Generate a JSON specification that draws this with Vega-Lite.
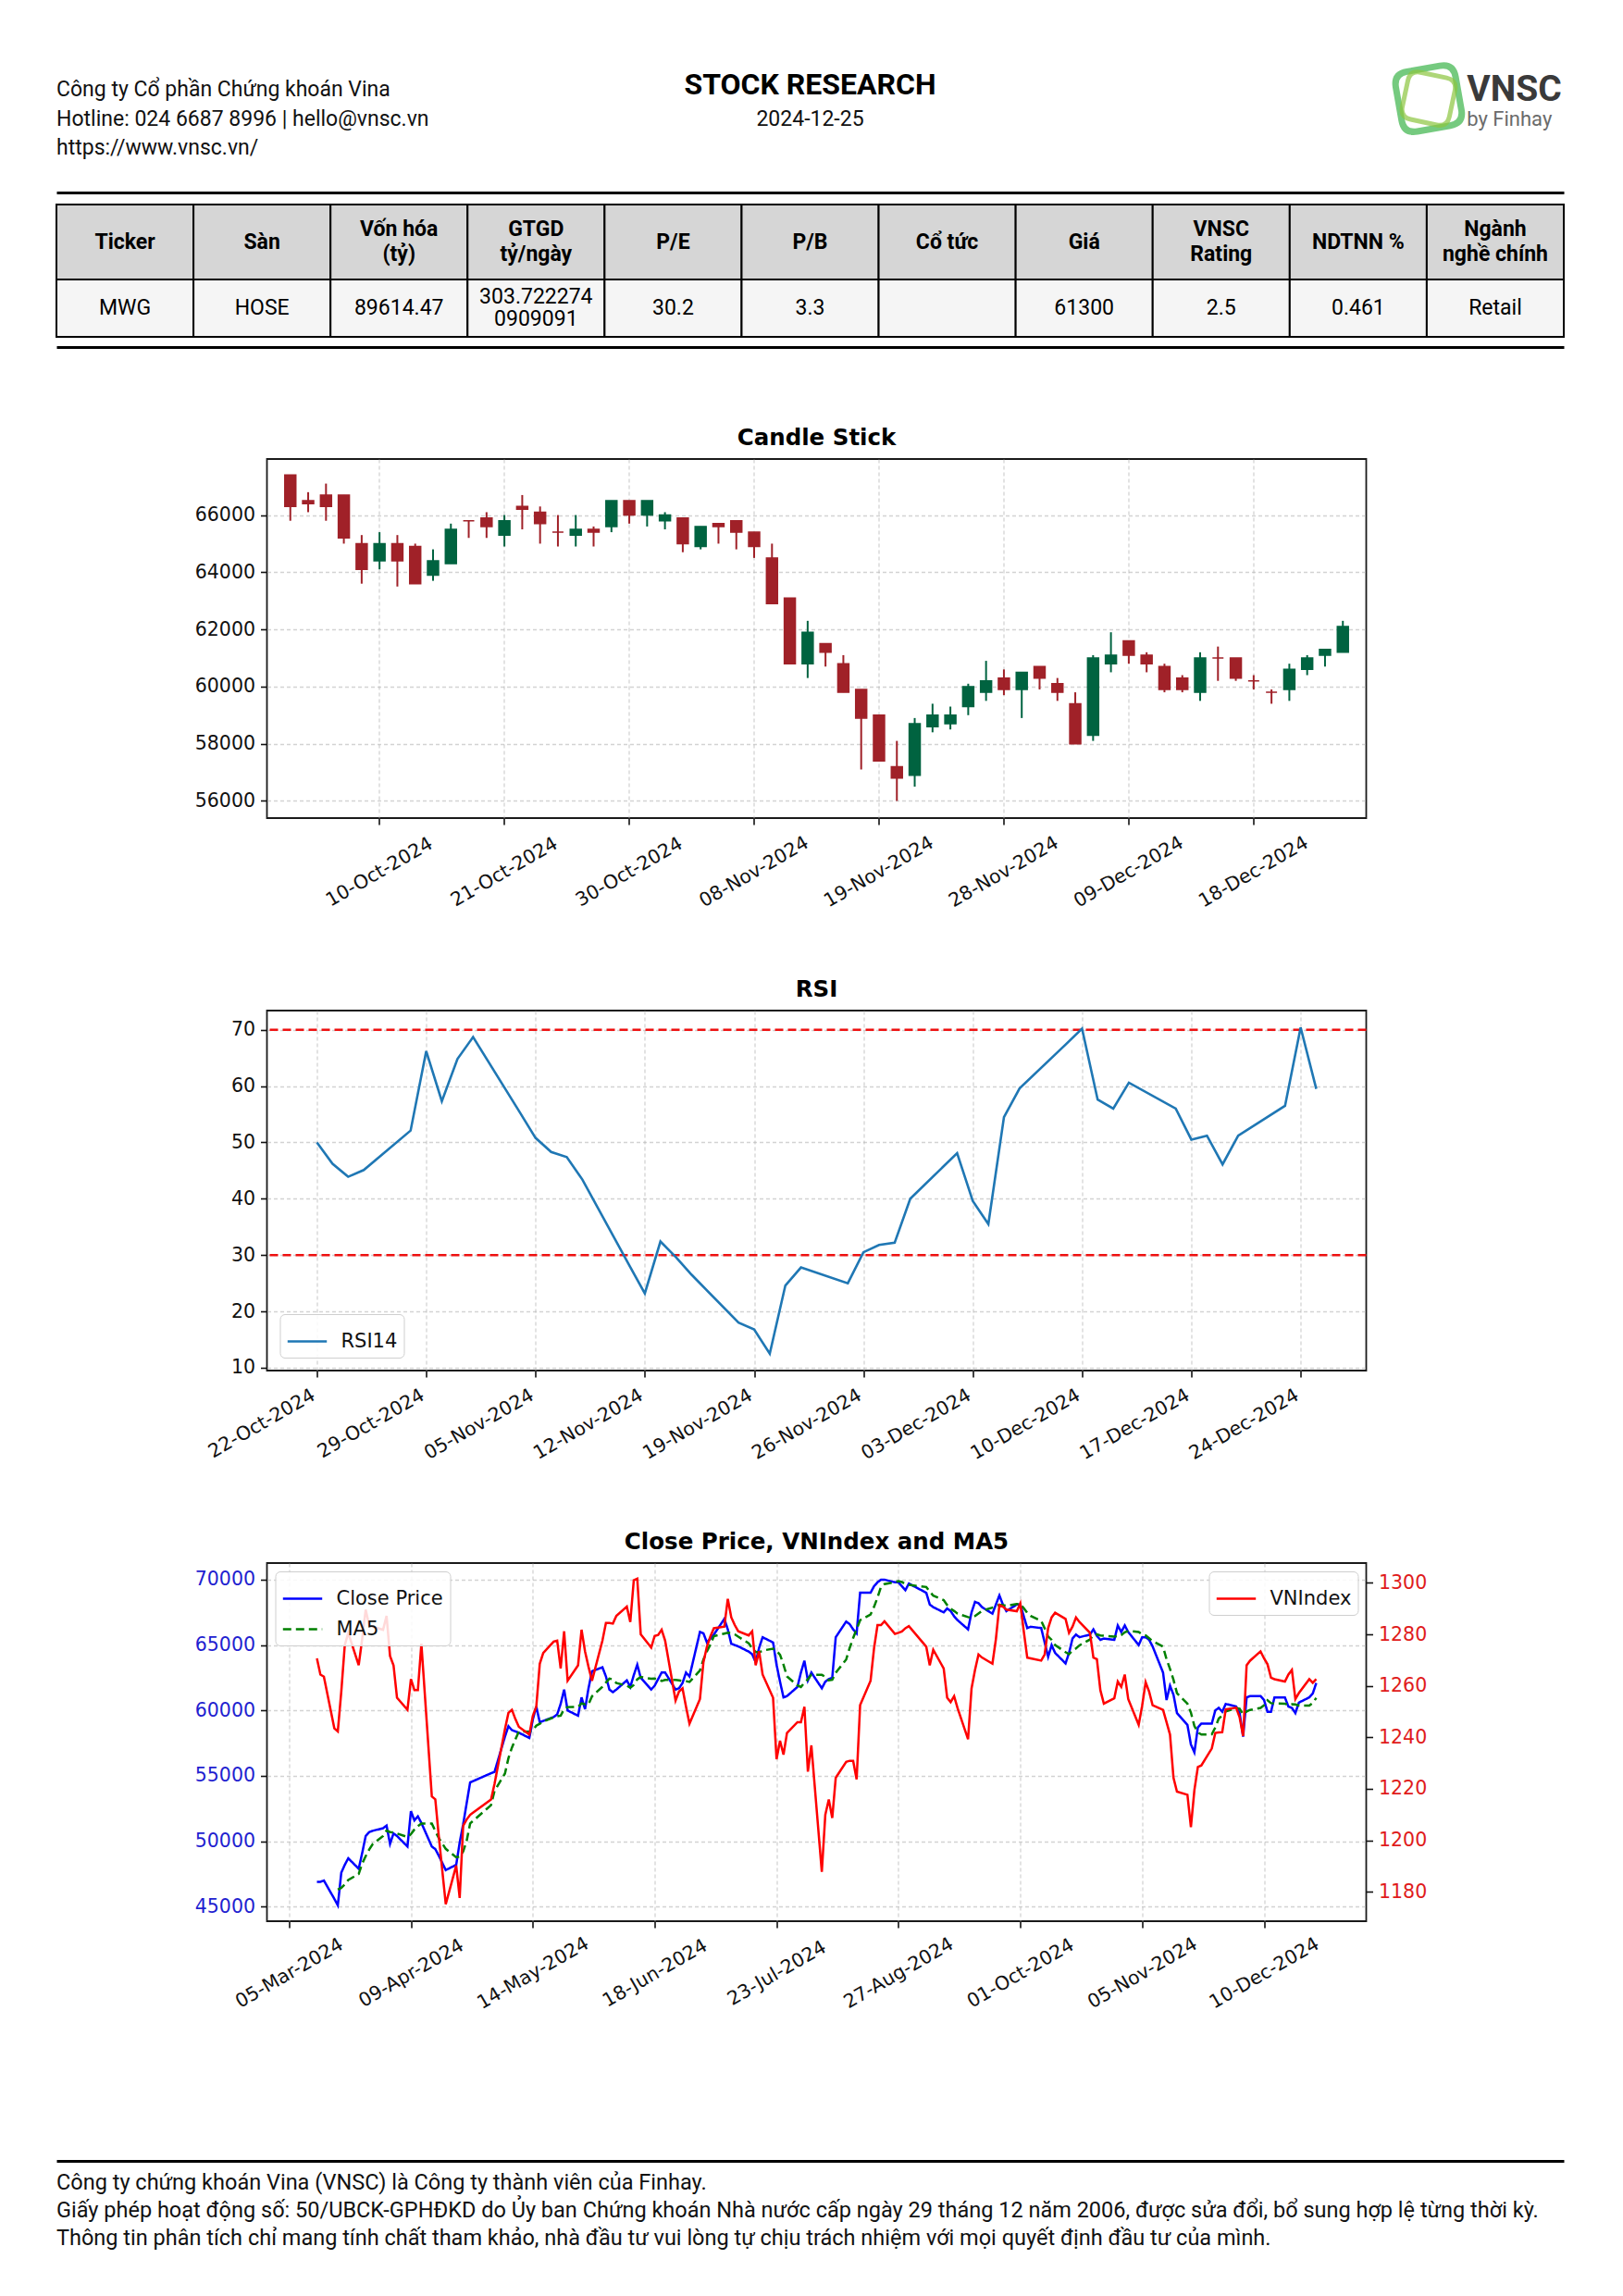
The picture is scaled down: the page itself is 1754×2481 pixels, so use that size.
{
  "$schema": "https://vega.github.io/schema/vega-lite/v6.json",
  "background": "white",
  "padding": {"left": 60, "top": 56, "right": 20, "bottom": 20},
  "bounds": "flush",
  "center": true,
  "spacing": 208,
  "resolve": {"scale": {"color": "independent", "strokeDash": "independent"}, "legend": {"color": "independent", "strokeDash": "independent"}},
  "config": {
    "view": {"stroke": "#1a1a1a", "strokeWidth": 1.8},
    "font": "DejaVu Sans",
    "title": {"font": "DejaVu Sans", "fontSize": 24.5, "fontWeight": "bold", "color": "#000000", "offset": 10},
    "axis": {"labelFont": "DejaVu Sans", "labelFontSize": 20.5, "labelColor": "#111111", "tickColor": "#111111", "tickSize": 7, "tickWidth": 1.6, "domain": false, "gridColor": "#b5b5b5", "gridDash": [4, 3], "gridOpacity": 0.6, "gridWidth": 1.3, "labelPadding": 6, "labelOverlap": false, "labelFlush": false},
    "legend": {"labelFont": "DejaVu Sans", "labelFontSize": 21, "labelColor": "#111111", "symbolType": "stroke", "symbolStrokeWidth": 2.5, "symbolSize": 1800, "strokeColor": "#cfcfcf", "fillColor": "rgba(255,255,255,0.85)", "cornerRadius": 5, "padding": 7, "labelOffset": 14, "rowPadding": -6}
  },
  "datasets": {
    "table": [
      {"head": "Ticker", "val": "MWG"},
      {"head": "Sàn", "val": "HOSE"},
      {"head": "Vốn hóa\n(tỷ)", "val": "89614.47"},
      {"head": "GTGD\ntỷ/ngày", "val": "303.722274\n0909091"},
      {"head": "P/E", "val": "30.2"},
      {"head": "P/B", "val": "3.3"},
      {"head": "Cổ tức", "val": ""},
      {"head": "Giá", "val": "61300"},
      {"head": "VNSC\nRating", "val": "2.5"},
      {"head": "NDTNN %", "val": "0.461"},
      {"head": "Ngành\nnghề chính", "val": "Retail"}
    ],
    "candles": [
      {"date":"2024-10-03","open":67400,"high":67400,"low":65800,"close":66300},
      {"date":"2024-10-04","open":66500,"high":66800,"low":66100,"close":66400},
      {"date":"2024-10-07","open":66700,"high":67100,"low":65800,"close":66300},
      {"date":"2024-10-08","open":66700,"high":66700,"low":65000,"close":65200},
      {"date":"2024-10-09","open":65000,"high":65300,"low":63600,"close":64100},
      {"date":"2024-10-10","open":64400,"high":65400,"low":64100,"close":65000},
      {"date":"2024-10-11","open":65000,"high":65300,"low":63500,"close":64400},
      {"date":"2024-10-14","open":64900,"high":65000,"low":63600,"close":63600},
      {"date":"2024-10-15","open":63900,"high":64800,"low":63700,"close":64400},
      {"date":"2024-10-16","open":64300,"high":65700,"low":64300,"close":65500},
      {"date":"2024-10-17","open":65800,"high":65800,"low":65200,"close":65800},
      {"date":"2024-10-18","open":65900,"high":66100,"low":65200,"close":65600},
      {"date":"2024-10-21","open":65300,"high":66000,"low":64900,"close":65800},
      {"date":"2024-10-22","open":66300,"high":66700,"low":65500,"close":66200},
      {"date":"2024-10-23","open":66100,"high":66300,"low":65000,"close":65700},
      {"date":"2024-10-24","open":65400,"high":66000,"low":64900,"close":65400},
      {"date":"2024-10-25","open":65300,"high":66000,"low":64900,"close":65500},
      {"date":"2024-10-28","open":65500,"high":65600,"low":64900,"close":65400},
      {"date":"2024-10-29","open":65600,"high":66500,"low":65400,"close":66500},
      {"date":"2024-10-30","open":66500,"high":66500,"low":65700,"close":66000},
      {"date":"2024-10-31","open":66000,"high":66500,"low":65600,"close":66500},
      {"date":"2024-11-01","open":65800,"high":66100,"low":65500,"close":66000},
      {"date":"2024-11-04","open":65900,"high":65900,"low":64700,"close":65000},
      {"date":"2024-11-05","open":64900,"high":65600,"low":64800,"close":65600},
      {"date":"2024-11-06","open":65700,"high":65700,"low":65000,"close":65600},
      {"date":"2024-11-07","open":65800,"high":65800,"low":64800,"close":65400},
      {"date":"2024-11-08","open":65400,"high":65400,"low":64500,"close":64900},
      {"date":"2024-11-11","open":64500,"high":65000,"low":62900,"close":62900},
      {"date":"2024-11-12","open":63100,"high":63100,"low":60800,"close":60800},
      {"date":"2024-11-13","open":60800,"high":62300,"low":60300,"close":61900},
      {"date":"2024-11-14","open":61500,"high":61500,"low":60700,"close":61200},
      {"date":"2024-11-15","open":60800,"high":61100,"low":59800,"close":59800},
      {"date":"2024-11-18","open":59900,"high":59900,"low":57100,"close":58900},
      {"date":"2024-11-19","open":59000,"high":59000,"low":57400,"close":57400},
      {"date":"2024-11-20","open":57200,"high":58100,"low":56000,"close":56800},
      {"date":"2024-11-21","open":56900,"high":58900,"low":56500,"close":58700},
      {"date":"2024-11-22","open":58600,"high":59400,"low":58400,"close":59000},
      {"date":"2024-11-25","open":58700,"high":59300,"low":58500,"close":59000},
      {"date":"2024-11-26","open":59300,"high":60100,"low":59000,"close":60000},
      {"date":"2024-11-27","open":59800,"high":60900,"low":59500,"close":60200},
      {"date":"2024-11-28","open":60300,"high":60600,"low":59700,"close":59900},
      {"date":"2024-11-29","open":59900,"high":60500,"low":58900,"close":60500},
      {"date":"2024-12-02","open":60700,"high":60700,"low":59900,"close":60300},
      {"date":"2024-12-03","open":60100,"high":60300,"low":59500,"close":59800},
      {"date":"2024-12-04","open":59400,"high":59800,"low":58000,"close":58000},
      {"date":"2024-12-05","open":58300,"high":61100,"low":58100,"close":61000},
      {"date":"2024-12-06","open":60800,"high":61900,"low":60500,"close":61100},
      {"date":"2024-12-09","open":61600,"high":61600,"low":60800,"close":61100},
      {"date":"2024-12-10","open":61100,"high":61200,"low":60500,"close":60800},
      {"date":"2024-12-11","open":60700,"high":60800,"low":59800,"close":59900},
      {"date":"2024-12-12","open":60300,"high":60400,"low":59800,"close":59900},
      {"date":"2024-12-13","open":59800,"high":61200,"low":59500,"close":61000},
      {"date":"2024-12-16","open":61000,"high":61400,"low":60200,"close":61000},
      {"date":"2024-12-17","open":61000,"high":61000,"low":60200,"close":60300},
      {"date":"2024-12-18","open":60200,"high":60400,"low":59900,"close":60200},
      {"date":"2024-12-19","open":59800,"high":59900,"low":59400,"close":59800},
      {"date":"2024-12-20","open":59900,"high":60800,"low":59500,"close":60600},
      {"date":"2024-12-23","open":60600,"high":61100,"low":60400,"close":61000},
      {"date":"2024-12-24","open":61100,"high":61300,"low":60700,"close":61300},
      {"date":"2024-12-25","open":61200,"high":62300,"low":61200,"close":62100}
    ],
    "rsi": [
      {"date":"2024-10-22","rsi":50.0},{"date":"2024-10-23","rsi":46.2},{"date":"2024-10-24","rsi":43.9},{"date":"2024-10-25","rsi":45.1},
      {"date":"2024-10-28","rsi":52.1},{"date":"2024-10-29","rsi":66.2},{"date":"2024-10-30","rsi":57.3},{"date":"2024-10-31","rsi":64.8},
      {"date":"2024-11-01","rsi":68.7},{"date":"2024-11-04","rsi":55.3},{"date":"2024-11-05","rsi":50.8},{"date":"2024-11-06","rsi":48.3},
      {"date":"2024-11-07","rsi":47.4},{"date":"2024-11-08","rsi":43.4},{"date":"2024-11-11","rsi":28.2},{"date":"2024-11-12","rsi":23.2},
      {"date":"2024-11-13","rsi":32.4},{"date":"2024-11-14","rsi":29.6},{"date":"2024-11-15","rsi":26.5},{"date":"2024-11-18","rsi":18.0},
      {"date":"2024-11-19","rsi":16.8},{"date":"2024-11-20","rsi":12.5},{"date":"2024-11-21","rsi":24.6},{"date":"2024-11-22","rsi":27.8},
      {"date":"2024-11-25","rsi":25.0},{"date":"2024-11-26","rsi":30.5},{"date":"2024-11-27","rsi":31.8},{"date":"2024-11-28","rsi":32.2},
      {"date":"2024-11-29","rsi":40.0},{"date":"2024-12-02","rsi":48.1},{"date":"2024-12-03","rsi":39.6},{"date":"2024-12-04","rsi":35.5},
      {"date":"2024-12-05","rsi":54.5},{"date":"2024-12-06","rsi":59.6},{"date":"2024-12-09","rsi":67.5},{"date":"2024-12-10","rsi":70.2},
      {"date":"2024-12-11","rsi":57.6},{"date":"2024-12-12","rsi":56.0},{"date":"2024-12-13","rsi":60.6},{"date":"2024-12-16","rsi":56.0},
      {"date":"2024-12-17","rsi":50.5},{"date":"2024-12-18","rsi":51.2},{"date":"2024-12-19","rsi":46.1},{"date":"2024-12-20","rsi":51.2},
      {"date":"2024-12-23","rsi":56.5},{"date":"2024-12-24","rsi":70.4},{"date":"2024-12-25","rsi":59.5}
    ],
    "prices": [
      {"date":"2024-03-13","close":46900,"vnindex":1270.7},{"date":"2024-03-14","close":46900,"vnindex":1264.4},{"date":"2024-03-15","close":47000,"vnindex":1263.6},
      {"date":"2024-03-18","close":45600,"vnindex":1243.5},{"date":"2024-03-19","close":45100,"vnindex":1242.3},{"date":"2024-03-20","close":47600,"vnindex":1257.8},
      {"date":"2024-03-21","close":48200,"vnindex":1275.8},{"date":"2024-03-22","close":48700,"vnindex":1280.6},{"date":"2024-03-25","close":47900,"vnindex":1268.0},
      {"date":"2024-03-26","close":49100,"vnindex":1278.2},{"date":"2024-03-27","close":50400,"vnindex":1289.6},{"date":"2024-03-28","close":50700,"vnindex":1283.6},
      {"date":"2024-03-29","close":50800,"vnindex":1283.0},{"date":"2024-04-01","close":51000,"vnindex":1281.8},{"date":"2024-04-02","close":51200,"vnindex":1287.2},
      {"date":"2024-04-03","close":49800,"vnindex":1271.6},{"date":"2024-04-04","close":50600,"vnindex":1268.0},{"date":"2024-04-05","close":50400,"vnindex":1255.4},
      {"date":"2024-04-08","close":49600,"vnindex":1250.7},{"date":"2024-04-09","close":52300,"vnindex":1262.6},{"date":"2024-04-10","close":51600,"vnindex":1258.4},
      {"date":"2024-04-11","close":51900,"vnindex":1258.4},{"date":"2024-04-12","close":51400,"vnindex":1276.4},{"date":"2024-04-15","close":49600,"vnindex":1217.1},
      {"date":"2024-04-16","close":49400,"vnindex":1215.9},{"date":"2024-04-17","close":48900,"vnindex":1201.6},{"date":"2024-04-19","close":47800,"vnindex":1175.2},
      {"date":"2024-04-22","close":48200,"vnindex":1190.2},{"date":"2024-04-23","close":49900,"vnindex":1177.6},{"date":"2024-04-24","close":51300,"vnindex":1205.7},
      {"date":"2024-04-25","close":52900,"vnindex":1208.1},{"date":"2024-04-26","close":54500,"vnindex":1209.9},{"date":"2024-05-02","close":55200,"vnindex":1215.9},
      {"date":"2024-05-03","close":55300,"vnindex":1221.9},{"date":"2024-05-06","close":58000,"vnindex":1243.2},{"date":"2024-05-07","close":58800,"vnindex":1249.5},
      {"date":"2024-05-08","close":58500,"vnindex":1250.7},{"date":"2024-05-09","close":58400,"vnindex":1247.1},{"date":"2024-05-10","close":58300,"vnindex":1244.1},
      {"date":"2024-05-13","close":57900,"vnindex":1241.1},{"date":"2024-05-14","close":59300,"vnindex":1248.3},{"date":"2024-05-15","close":60300,"vnindex":1251.9},
      {"date":"2024-05-16","close":59100,"vnindex":1268.6},{"date":"2024-05-17","close":59200,"vnindex":1272.8},{"date":"2024-05-20","close":59500,"vnindex":1277.2},
      {"date":"2024-05-21","close":59700,"vnindex":1277.6},{"date":"2024-05-22","close":60500,"vnindex":1266.8},{"date":"2024-05-23","close":61600,"vnindex":1281.2},
      {"date":"2024-05-24","close":60000,"vnindex":1262.0},{"date":"2024-05-27","close":59600,"vnindex":1268.0},{"date":"2024-05-28","close":61000,"vnindex":1281.8},
      {"date":"2024-05-29","close":60100,"vnindex":1273.4},{"date":"2024-05-30","close":61700,"vnindex":1267.4},{"date":"2024-05-31","close":63000,"vnindex":1262.0},
      {"date":"2024-06-03","close":63300,"vnindex":1277.6},{"date":"2024-06-04","close":62600,"vnindex":1284.4},{"date":"2024-06-05","close":61600,"vnindex":1284.4},
      {"date":"2024-06-06","close":61400,"vnindex":1284.2},{"date":"2024-06-07","close":61600,"vnindex":1287.2},{"date":"2024-06-10","close":62300,"vnindex":1290.8},
      {"date":"2024-06-11","close":61800,"vnindex":1284.8},{"date":"2024-06-12","close":62700,"vnindex":1301.0},{"date":"2024-06-13","close":63500,"vnindex":1301.6},
      {"date":"2024-06-14","close":62500,"vnindex":1280.0},{"date":"2024-06-17","close":61600,"vnindex":1274.9},{"date":"2024-06-18","close":61900,"vnindex":1279.4},
      {"date":"2024-06-19","close":62400,"vnindex":1279.8},{"date":"2024-06-20","close":62900,"vnindex":1281.8},{"date":"2024-06-21","close":62900,"vnindex":1277.6},
      {"date":"2024-06-24","close":61600,"vnindex":1254.3},{"date":"2024-06-25","close":61700,"vnindex":1257.8},{"date":"2024-06-26","close":62100,"vnindex":1259.0},
      {"date":"2024-06-27","close":62900,"vnindex":1251.9},{"date":"2024-06-28","close":62600,"vnindex":1245.3},{"date":"2024-07-01","close":66000,"vnindex":1254.9},
      {"date":"2024-07-02","close":65900,"vnindex":1269.2},{"date":"2024-07-03","close":65200,"vnindex":1275.2},{"date":"2024-07-04","close":65500,"vnindex":1279.2},
      {"date":"2024-07-05","close":65800,"vnindex":1282.4},{"date":"2024-07-08","close":67000,"vnindex":1283.0},{"date":"2024-07-09","close":66200,"vnindex":1293.8},
      {"date":"2024-07-10","close":65100,"vnindex":1286.6},{"date":"2024-07-11","close":65000,"vnindex":1283.6},{"date":"2024-07-12","close":64900,"vnindex":1281.2},
      {"date":"2024-07-15","close":64500,"vnindex":1279.6},{"date":"2024-07-16","close":64300,"vnindex":1281.2},{"date":"2024-07-17","close":63700,"vnindex":1268.0},
      {"date":"2024-07-18","close":64800,"vnindex":1273.4},{"date":"2024-07-19","close":65600,"vnindex":1264.4},{"date":"2024-07-22","close":65200,"vnindex":1255.4},
      {"date":"2024-07-23","close":63500,"vnindex":1231.5},{"date":"2024-07-24","close":62200,"vnindex":1238.7},{"date":"2024-07-25","close":61000,"vnindex":1233.3},
      {"date":"2024-07-26","close":61100,"vnindex":1241.7},{"date":"2024-07-29","close":61800,"vnindex":1245.9},{"date":"2024-07-30","close":62900,"vnindex":1245.9},
      {"date":"2024-07-31","close":63800,"vnindex":1251.9},{"date":"2024-08-01","close":62300,"vnindex":1226.7},{"date":"2024-08-02","close":62900,"vnindex":1236.9},
      {"date":"2024-08-05","close":61700,"vnindex":1187.8},{"date":"2024-08-06","close":62200,"vnindex":1209.9},{"date":"2024-08-07","close":62400,"vnindex":1215.9},
      {"date":"2024-08-08","close":62500,"vnindex":1208.7},{"date":"2024-08-09","close":65600,"vnindex":1224.3},{"date":"2024-08-12","close":66800,"vnindex":1230.5},
      {"date":"2024-08-13","close":66600,"vnindex":1230.9},{"date":"2024-08-14","close":66200,"vnindex":1230.9},{"date":"2024-08-15","close":65900,"vnindex":1223.7},
      {"date":"2024-08-16","close":69000,"vnindex":1252.5},{"date":"2024-08-19","close":69000,"vnindex":1262.0},{"date":"2024-08-20","close":69500,"vnindex":1274.6},
      {"date":"2024-08-21","close":69800,"vnindex":1283.6},{"date":"2024-08-22","close":70000,"vnindex":1283.6},{"date":"2024-08-23","close":70000,"vnindex":1285.1},
      {"date":"2024-08-26","close":69800,"vnindex":1280.2},{"date":"2024-08-27","close":69800,"vnindex":1280.6},{"date":"2024-08-28","close":69500,"vnindex":1281.1},
      {"date":"2024-08-29","close":69200,"vnindex":1282.4},{"date":"2024-08-30","close":69700,"vnindex":1283.2},{"date":"2024-09-04","close":69000,"vnindex":1275.2},
      {"date":"2024-09-05","close":68100,"vnindex":1268.0},{"date":"2024-09-06","close":67900,"vnindex":1274.0},{"date":"2024-09-09","close":67500,"vnindex":1266.8},
      {"date":"2024-09-10","close":67800,"vnindex":1255.4},{"date":"2024-09-11","close":67600,"vnindex":1253.7},{"date":"2024-09-12","close":67200,"vnindex":1256.0},
      {"date":"2024-09-13","close":66900,"vnindex":1251.3},{"date":"2024-09-16","close":66200,"vnindex":1239.3},{"date":"2024-09-17","close":67500,"vnindex":1259.0},
      {"date":"2024-09-18","close":68300,"vnindex":1266.2},{"date":"2024-09-19","close":68200,"vnindex":1272.2},{"date":"2024-09-20","close":67900,"vnindex":1271.0},
      {"date":"2024-09-23","close":67400,"vnindex":1268.6},{"date":"2024-09-24","close":68100,"vnindex":1278.2},{"date":"2024-09-25","close":68800,"vnindex":1291.4},
      {"date":"2024-09-26","close":68100,"vnindex":1290.8},{"date":"2024-09-27","close":67600,"vnindex":1289.6},{"date":"2024-09-30","close":68100,"vnindex":1289.0},
      {"date":"2024-10-01","close":68100,"vnindex":1292.0},{"date":"2024-10-02","close":67200,"vnindex":1281.2},{"date":"2024-10-03","close":66300,"vnindex":1271.0},
      {"date":"2024-10-04","close":66400,"vnindex":1270.7},{"date":"2024-10-07","close":66300,"vnindex":1269.8},{"date":"2024-10-08","close":65200,"vnindex":1272.2},
      {"date":"2024-10-09","close":64100,"vnindex":1282.4},{"date":"2024-10-10","close":65000,"vnindex":1286.6},{"date":"2024-10-11","close":64400,"vnindex":1288.4},
      {"date":"2024-10-14","close":63600,"vnindex":1286.0},{"date":"2024-10-15","close":64400,"vnindex":1280.6},{"date":"2024-10-16","close":65500,"vnindex":1283.0},
      {"date":"2024-10-17","close":65800,"vnindex":1286.6},{"date":"2024-10-18","close":65600,"vnindex":1284.8},{"date":"2024-10-21","close":65800,"vnindex":1280.6},
      {"date":"2024-10-22","close":66200,"vnindex":1271.0},{"date":"2024-10-23","close":65700,"vnindex":1270.4},{"date":"2024-10-24","close":65400,"vnindex":1258.3},
      {"date":"2024-10-25","close":65500,"vnindex":1253.1},{"date":"2024-10-28","close":65400,"vnindex":1255.2},{"date":"2024-10-29","close":66500,"vnindex":1261.7},
      {"date":"2024-10-30","close":66000,"vnindex":1259.6},{"date":"2024-10-31","close":66500,"vnindex":1264.4},{"date":"2024-11-01","close":66000,"vnindex":1254.9},
      {"date":"2024-11-04","close":65000,"vnindex":1244.9},{"date":"2024-11-05","close":65600,"vnindex":1252.3},{"date":"2024-11-06","close":65600,"vnindex":1261.4},
      {"date":"2024-11-07","close":65400,"vnindex":1257.8},{"date":"2024-11-08","close":64900,"vnindex":1252.5},{"date":"2024-11-11","close":62900,"vnindex":1250.7},
      {"date":"2024-11-12","close":60800,"vnindex":1245.9},{"date":"2024-11-13","close":61900,"vnindex":1241.1},{"date":"2024-11-14","close":61200,"vnindex":1224.3},
      {"date":"2024-11-15","close":59800,"vnindex":1218.9},{"date":"2024-11-18","close":58900,"vnindex":1217.7},{"date":"2024-11-19","close":57400,"vnindex":1205.1},
      {"date":"2024-11-20","close":56800,"vnindex":1219.5},{"date":"2024-11-21","close":58700,"vnindex":1228.5},{"date":"2024-11-22","close":59000,"vnindex":1229.1},
      {"date":"2024-11-25","close":59000,"vnindex":1235.7},{"date":"2024-11-26","close":60000,"vnindex":1241.7},{"date":"2024-11-27","close":60200,"vnindex":1241.9},
      {"date":"2024-11-28","close":59900,"vnindex":1242.0},{"date":"2024-11-29","close":60500,"vnindex":1250.9},{"date":"2024-12-02","close":60300,"vnindex":1251.5},
      {"date":"2024-12-03","close":59800,"vnindex":1247.7},{"date":"2024-12-04","close":58000,"vnindex":1240.5},{"date":"2024-12-05","close":61000,"vnindex":1268.0},
      {"date":"2024-12-06","close":61100,"vnindex":1269.8},{"date":"2024-12-09","close":61100,"vnindex":1273.4},{"date":"2024-12-10","close":60800,"vnindex":1270.7},
      {"date":"2024-12-11","close":59900,"vnindex":1268.4},{"date":"2024-12-12","close":59900,"vnindex":1263.2},{"date":"2024-12-13","close":61000,"vnindex":1262.6},
      {"date":"2024-12-16","close":61000,"vnindex":1261.7},{"date":"2024-12-17","close":60300,"vnindex":1264.4},{"date":"2024-12-18","close":60200,"vnindex":1266.2},
      {"date":"2024-12-19","close":59800,"vnindex":1254.9},{"date":"2024-12-20","close":60600,"vnindex":1257.2},{"date":"2024-12-23","close":61000,"vnindex":1262.6},
      {"date":"2024-12-24","close":61300,"vnindex":1261.2},{"date":"2024-12-25","close":62100,"vnindex":1262.6}
    ]
  },
  "vconcat": [
    {
      "width": 1643,
      "height": 228,
      "view": {"stroke": null},
      "layer": [
        {
          "data": {"values": [
            {"block": "info", "line": "a", "text": "Công ty Cổ phần Chứng khoán Vina"},
            {"block": "info", "line": "b", "text": "Hotline: 024 6687 8996 | hello@vnsc.vn"},
            {"block": "info", "line": "c", "text": "https://www.vnsc.vn/"}
          ]},
          "mark": {"type": "text", "font": "Roboto", "fontSize": 23, "align": "left", "baseline": "middle", "color": "#111111"},
          "encoding": {
            "x": {"field": "block", "type": "nominal", "bandPosition": 0, "scale": {"type": "band", "domain": ["info", "title", "logo"], "range": [0, 1629], "paddingInner": 0, "paddingOuter": 0}, "axis": null},
            "y": {"field": "line", "type": "nominal", "scale": {"type": "band", "domain": ["a", "b", "c"], "range": [21.5, 115.5], "paddingInner": 0, "paddingOuter": 0}, "axis": null},
            "text": {"field": "text"}
          }
        },
        {
          "data": {"values": [{"block": "title", "line": "a", "text": "STOCK RESEARCH"}]},
          "mark": {"type": "text", "font": "Roboto", "fontSize": 32, "fontWeight": "bold", "align": "center", "baseline": "middle", "color": "#000000"},
          "encoding": {
            "x": {"field": "block", "type": "nominal", "scale": {"type": "band", "domain": ["info", "title", "logo"], "range": [0, 1629], "paddingInner": 0, "paddingOuter": 0}, "axis": null},
            "y": {"field": "line", "type": "nominal", "bandPosition": 0.33, "scale": {"type": "band", "domain": ["a", "b", "c"], "range": [21.5, 115.5], "paddingInner": 0, "paddingOuter": 0}, "axis": null},
            "text": {"field": "text"}
          }
        },
        {
          "data": {"values": [{"block": "title", "line": "b", "text": "2024-12-25"}]},
          "mark": {"type": "text", "font": "Roboto", "fontSize": 23, "align": "center", "baseline": "middle", "color": "#111111"},
          "encoding": {
            "x": {"field": "block", "type": "nominal", "scale": {"type": "band", "domain": ["info", "title", "logo"], "range": [0, 1629], "paddingInner": 0, "paddingOuter": 0}, "axis": null},
            "y": {"field": "line", "type": "nominal", "scale": {"type": "band", "domain": ["a", "b", "c"], "range": [21.5, 115.5], "paddingInner": 0, "paddingOuter": 0}, "axis": null},
            "text": {"field": "text"}
          }
        },
        {
          "data": {"values": [{"block": "logo", "line": "a"}]},
          "mark": {"type": "point", "shape": "M-0.55,-1H0.55Q1,-1 1,-0.55V0.55Q1,1 0.55,1H-0.55Q-1,1 -1,0.55V-0.55Q-1,-1 -0.55,-1Z", "filled": false, "size": 4300, "strokeWidth": 7, "color": "#3cb54a", "angle": -10},
          "encoding": {
            "x": {"field": "block", "type": "nominal", "bandPosition": 0.731, "scale": {"type": "band", "domain": ["info", "title", "logo"], "range": [0, 1629], "paddingInner": 0, "paddingOuter": 0}, "axis": null},
            "y": {"field": "line", "type": "nominal", "bandPosition": 0.8, "scale": {"type": "band", "domain": ["a", "b", "c"], "range": [21.5, 115.5], "paddingInner": 0, "paddingOuter": 0}, "axis": null}
          }
        },
        {
          "data": {"values": [{"block": "logo", "line": "a"}]},
          "mark": {"type": "point", "shape": "M-0.55,-1H0.55Q1,-1 1,-0.55V0.55Q1,1 0.55,1H-0.55Q-1,1 -1,0.55V-0.55Q-1,-1 -0.55,-1Z", "filled": false, "size": 2700, "strokeWidth": 5, "color": "#8cc63f", "angle": 12},
          "encoding": {
            "x": {"field": "block", "type": "nominal", "bandPosition": 0.731, "scale": {"type": "band", "domain": ["info", "title", "logo"], "range": [0, 1629], "paddingInner": 0, "paddingOuter": 0}, "axis": null},
            "y": {"field": "line", "type": "nominal", "bandPosition": 0.8, "scale": {"type": "band", "domain": ["a", "b", "c"], "range": [21.5, 115.5], "paddingInner": 0, "paddingOuter": 0}, "axis": null}
          }
        },
        {
          "data": {"values": [{"block": "logo", "line": "a", "text": "VNSC"}]},
          "mark": {"type": "text", "font": "Roboto", "fontSize": 39, "fontWeight": "bold", "align": "left", "baseline": "middle", "color": "#3a3a3a"},
          "encoding": {
            "x": {"field": "block", "type": "nominal", "bandPosition": 0.807, "scale": {"type": "band", "domain": ["info", "title", "logo"], "range": [0, 1629], "paddingInner": 0, "paddingOuter": 0}, "axis": null},
            "y": {"field": "line", "type": "nominal", "scale": {"type": "band", "domain": ["a", "b", "c"], "range": [21.5, 115.5], "paddingInner": 0, "paddingOuter": 0}, "axis": null},
            "text": {"field": "text"}
          }
        },
        {
          "data": {"values": [{"block": "logo", "line": "b", "text": "by Finhay"}]},
          "mark": {"type": "text", "font": "Roboto", "fontSize": 22, "align": "left", "baseline": "middle", "color": "#6b6b6b"},
          "encoding": {
            "x": {"field": "block", "type": "nominal", "bandPosition": 0.807, "scale": {"type": "band", "domain": ["info", "title", "logo"], "range": [0, 1629], "paddingInner": 0, "paddingOuter": 0}, "axis": null},
            "y": {"field": "line", "type": "nominal", "scale": {"type": "band", "domain": ["a", "b", "c"], "range": [21.5, 115.5], "paddingInner": 0, "paddingOuter": 0}, "axis": null},
            "text": {"field": "text"}
          }
        },
        {
          "data": {"name": "table"},
          "mark": {"type": "rect", "fill": "#d6d6d6", "stroke": "#000000", "strokeWidth": 2},
          "encoding": {
            "x": {"field": "head", "type": "nominal", "sort": null, "scale": {"type": "band", "range": [0, 1629], "paddingInner": 0, "paddingOuter": 0}, "axis": {"orient": "top", "offset": -148, "domain": true, "domainColor": "#000000", "domainWidth": 3, "ticks": false, "labels": false, "grid": false, "title": null}},
            "y": {"datum": "head", "type": "nominal", "scale": {"type": "band", "domain": ["head"], "range": [161, 242], "paddingInner": 0, "paddingOuter": 0}, "axis": null}
          }
        },
        {
          "data": {"name": "table"},
          "transform": [{"filter": "indexof(datum.head, '\\n') < 0"}],
          "mark": {"type": "text", "font": "Roboto", "fontSize": 23, "fontWeight": "bold", "align": "center", "baseline": "middle", "color": "#000000"},
          "encoding": {
            "x": {"field": "head", "type": "nominal", "sort": null, "scale": {"type": "band", "domain": ["Ticker", "Sàn", "Vốn hóa\n(tỷ)", "GTGD\ntỷ/ngày", "P/E", "P/B", "Cổ tức", "Giá", "VNSC\nRating", "NDTNN %", "Ngành\nnghề chính"], "range": [0, 1629], "paddingInner": 0, "paddingOuter": 0}, "axis": null},
            "y": {"datum": "head", "type": "nominal", "scale": {"type": "band", "domain": ["head"], "range": [161, 242], "paddingInner": 0, "paddingOuter": 0}, "axis": null},
            "text": {"field": "head"}
          }
        },
        {
          "data": {"name": "table"},
          "transform": [{"filter": "indexof(datum.head, '\\n') >= 0"}],
          "mark": {"type": "text", "font": "Roboto", "fontSize": 23, "fontWeight": "bold", "lineBreak": "\n", "lineHeight": 27, "dy": -13.5, "align": "center", "baseline": "middle", "color": "#000000"},
          "encoding": {
            "x": {"field": "head", "type": "nominal", "sort": null, "scale": {"type": "band", "domain": ["Ticker", "Sàn", "Vốn hóa\n(tỷ)", "GTGD\ntỷ/ngày", "P/E", "P/B", "Cổ tức", "Giá", "VNSC\nRating", "NDTNN %", "Ngành\nnghề chính"], "range": [0, 1629], "paddingInner": 0, "paddingOuter": 0}, "axis": null},
            "y": {"datum": "head", "type": "nominal", "scale": {"type": "band", "domain": ["head"], "range": [161, 242], "paddingInner": 0, "paddingOuter": 0}, "axis": null},
            "text": {"field": "head"}
          }
        },
        {
          "data": {"name": "table"},
          "mark": {"type": "rect", "fill": "#f5f5f5", "stroke": "#000000", "strokeWidth": 2},
          "encoding": {
            "x": {"field": "head", "type": "nominal", "sort": null, "scale": {"type": "band", "range": [0, 1629], "paddingInner": 0, "paddingOuter": 0}, "axis": {"orient": "bottom", "offset": 87, "domain": true, "domainColor": "#000000", "domainWidth": 3, "ticks": false, "labels": false, "grid": false, "title": null}},
            "y": {"datum": "data", "type": "nominal", "scale": {"type": "band", "domain": ["data"], "range": [242, 304], "paddingInner": 0, "paddingOuter": 0}, "axis": null}
          }
        },
        {
          "data": {"name": "table"},
          "transform": [{"filter": "indexof(datum.val, '\\n') < 0"}],
          "mark": {"type": "text", "font": "Roboto", "fontSize": 23, "align": "center", "baseline": "middle", "color": "#000000"},
          "encoding": {
            "x": {"field": "head", "type": "nominal", "sort": null, "scale": {"type": "band", "domain": ["Ticker", "Sàn", "Vốn hóa\n(tỷ)", "GTGD\ntỷ/ngày", "P/E", "P/B", "Cổ tức", "Giá", "VNSC\nRating", "NDTNN %", "Ngành\nnghề chính"], "range": [0, 1629], "paddingInner": 0, "paddingOuter": 0}, "axis": null},
            "y": {"datum": "data", "type": "nominal", "scale": {"type": "band", "domain": ["data"], "range": [242, 304], "paddingInner": 0, "paddingOuter": 0}, "axis": null},
            "text": {"field": "val"}
          }
        },
        {
          "data": {"name": "table"},
          "transform": [{"filter": "indexof(datum.val, '\\n') >= 0"}],
          "mark": {"type": "text", "font": "Roboto", "fontSize": 23, "lineBreak": "\n", "lineHeight": 24, "dy": -12, "align": "center", "baseline": "middle", "color": "#000000"},
          "encoding": {
            "x": {"field": "head", "type": "nominal", "sort": null, "scale": {"type": "band", "domain": ["Ticker", "Sàn", "Vốn hóa\n(tỷ)", "GTGD\ntỷ/ngày", "P/E", "P/B", "Cổ tức", "Giá", "VNSC\nRating", "NDTNN %", "Ngành\nnghề chính"], "range": [0, 1629], "paddingInner": 0, "paddingOuter": 0}, "axis": null},
            "y": {"datum": "data", "type": "nominal", "scale": {"type": "band", "domain": ["data"], "range": [242, 304], "paddingInner": 0, "paddingOuter": 0}, "axis": null},
            "text": {"field": "val"}
          }
        }
      ],
      "resolve": {"scale": {"x": "independent", "y": "independent"}, "axis": {"x": "independent", "y": "independent"}}
    },
    {
      "width": 1188,
      "height": 388,
      "title": {"text": "Candle Stick"},
      "data": {"name": "candles"},
      "encoding": {
        "x": {"field": "date", "type": "ordinal", "scale": {"type": "band", "paddingInner": 0.38, "paddingOuter": 3.72},
              "axis": {"values": ["2024-10-10", "2024-10-21", "2024-10-30", "2024-11-08", "2024-11-19", "2024-11-28", "2024-12-09", "2024-12-18"],
                       "labelExpr": "utcFormat(toDate(datum.value), '%d-%b-%Y')", "labelAngle": -30, "labelAlign": "center", "labelBaseline": "middle", "labelPadding": 51, "grid": true, "bandPosition": 0.5, "title": null}},
        "color": {"condition": {"test": "datum.close > datum.open", "value": "#006340"}, "value": "#A02128"}
      },
      "layer": [
        {
          "mark": {"type": "rule", "strokeWidth": 2},
          "encoding": {
            "y": {"field": "low", "type": "quantitative", "scale": {"domain": [55400, 67960], "nice": false, "zero": false}, "axis": {"values": [56000, 58000, 60000, 62000, 64000, 66000], "format": "d", "grid": true, "title": null}},
            "y2": {"field": "high"}
          }
        },
        {
          "mark": {"type": "bar", "strokeWidth": 1.5},
          "encoding": {
            "y": {"field": "open", "type": "quantitative", "scale": {"domain": [55400, 67960], "nice": false, "zero": false}},
            "y2": {"field": "close"},
            "stroke": {"condition": {"test": "datum.close > datum.open", "value": "#006340"}, "value": "#A02128"}
          }
        }
      ]
    },
    {
      "width": 1188,
      "height": 389,
      "title": {"text": "RSI"},
      "layer": [
        {
          "data": {"values": [{"level": 70}, {"level": 30}]},
          "mark": {"type": "rule", "color": "#ee1111", "strokeDash": [9, 5], "strokeWidth": 2.5},
          "encoding": {
            "y": {"field": "level", "type": "quantitative", "scale": {"domain": [9.5, 73.4], "nice": false, "zero": false}, "axis": {"values": [10, 20, 30, 40, 50, 60, 70], "grid": true, "title": null}}
          }
        },
        {
          "data": {"name": "rsi"},
          "mark": {"type": "line", "strokeWidth": 2.6},
          "encoding": {
            "x": {"field": "date", "type": "temporal",
                  "scale": {"type": "utc", "domain": [{"year": 2024, "month": 10, "date": 18, "hours": 19, "minutes": 12, "utc": true}, {"year": 2024, "month": 12, "date": 28, "hours": 4, "minutes": 48, "utc": true}]},
                  "axis": {"values": [
                    {"year": 2024, "month": 10, "date": 22, "utc": true}, {"year": 2024, "month": 10, "date": 29, "utc": true},
                    {"year": 2024, "month": 11, "date": 5, "utc": true}, {"year": 2024, "month": 11, "date": 12, "utc": true},
                    {"year": 2024, "month": 11, "date": 19, "utc": true}, {"year": 2024, "month": 11, "date": 26, "utc": true},
                    {"year": 2024, "month": 12, "date": 3, "utc": true}, {"year": 2024, "month": 12, "date": 10, "utc": true},
                    {"year": 2024, "month": 12, "date": 17, "utc": true}, {"year": 2024, "month": 12, "date": 24, "utc": true}],
                    "format": "%d-%b-%Y", "labelAngle": -30, "labelAlign": "right", "labelBaseline": "top", "labelPadding": 9, "labelOffset": -9, "grid": true, "title": null}},
            "y": {"field": "rsi", "type": "quantitative", "scale": {"domain": [9.5, 73.4], "nice": false, "zero": false}},
            "color": {"datum": "RSI14", "type": "nominal", "scale": {"domain": ["RSI14"], "range": ["#1f77b4"]},
                      "legend": {"title": null, "orient": "bottom-left", "offset": 14}}
          }
        }
      ]
    },
    {
      "width": 1188,
      "height": 387,
      "title": {"text": "Close Price, VNIndex and MA5"},
      "data": {"name": "prices"},
      "encoding": {
        "x": {"field": "date", "type": "temporal",
              "scale": {"type": "utc", "domain": [{"year": 2024, "month": 2, "date": 27, "hours": 15, "minutes": 36, "utc": true}, {"year": 2025, "month": 1, "date": 8, "hours": 8, "minutes": 24, "utc": true}]},
              "axis": {"values": [
                {"year": 2024, "month": 3, "date": 5, "utc": true}, {"year": 2024, "month": 4, "date": 9, "utc": true},
                {"year": 2024, "month": 5, "date": 14, "utc": true}, {"year": 2024, "month": 6, "date": 18, "utc": true},
                {"year": 2024, "month": 7, "date": 23, "utc": true}, {"year": 2024, "month": 8, "date": 27, "utc": true},
                {"year": 2024, "month": 10, "date": 1, "utc": true}, {"year": 2024, "month": 11, "date": 5, "utc": true},
                {"year": 2024, "month": 12, "date": 10, "utc": true}],
                "format": "%d-%b-%Y", "labelAngle": -30, "labelAlign": "center", "labelBaseline": "middle", "labelPadding": 49, "grid": true, "title": null}}
      },
      "layer": [
        {
          "transform": [
            {"window": [{"op": "mean", "field": "close", "as": "MA5"}, {"op": "count", "as": "n"}], "frame": [-4, 0], "sort": [{"field": "date", "order": "ascending"}]},
            {"fold": ["close", "MA5"], "as": ["series", "price"]},
            {"filter": "datum.series == 'close' || datum.n == 5"}
          ],
          "mark": {"type": "line", "strokeWidth": 2.5},
          "encoding": {
            "y": {"field": "price", "type": "quantitative", "scale": {"domain": [43890, 71270], "nice": false, "zero": false},
                  "axis": {"orient": "left", "values": [45000, 50000, 55000, 60000, 65000, 70000], "format": "d", "labelColor": "#1f1fd0", "grid": true, "title": null}},
            "color": {"field": "series", "type": "nominal", "scale": {"domain": ["close", "MA5"], "range": ["#0000ff", "#008000"]},
                      "legend": {"title": null, "orient": "top-left", "offset": 9, "labelExpr": "datum.label == 'close' ? 'Close Price' : datum.label"}},
            "strokeDash": {"field": "series", "type": "nominal", "scale": {"domain": ["close", "MA5"], "range": [[1, 0], [9, 5]]},
                      "legend": {"title": null, "orient": "top-left", "offset": 9, "labelExpr": "datum.label == 'close' ? 'Close Price' : datum.label"}}
          }
        },
        {
          "mark": {"type": "line", "strokeWidth": 2.5, "color": "#ff0000"},
          "encoding": {
            "y": {"field": "vnindex", "type": "quantitative", "scale": {"domain": [1168.6, 1307.7], "nice": false, "zero": false},
                  "axis": {"orient": "right", "values": [1180, 1200, 1220, 1240, 1260, 1280, 1300], "format": "d", "labelColor": "#e01b1b", "grid": false, "title": null}},
            "color": {"datum": "VNIndex", "type": "nominal", "scale": {"domain": ["VNIndex"], "range": ["#ff0000"]},
                      "legend": {"title": null, "orient": "top-right", "offset": 9}}
          }
        }
      ],
      "resolve": {"scale": {"y": "independent", "color": "independent", "strokeDash": "independent"}}
    },
    {
      "width": 1643,
      "height": 150,
      "view": {"stroke": null},
      "data": {"values": [
        {"line": "1", "text": "Công ty chứng khoán Vina (VNSC) là Công ty thành viên của Finhay."},
        {"line": "2", "text": "Giấy phép hoạt động số: 50/UBCK-GPHĐKD do Ủy ban Chứng khoán Nhà nước cấp ngày 29 tháng 12 năm 2006, được sửa đổi, bổ sung hợp lệ từng thời kỳ."},
        {"line": "3", "text": "Thông tin phân tích chỉ mang tính chất tham khảo, nhà đầu tư vui lòng tự chịu trách nhiệm với mọi quyết định đầu tư của mình."}
      ]},
      "mark": {"type": "text", "font": "Roboto", "fontSize": 23.5, "align": "left", "baseline": "middle", "color": "#111111"},
      "encoding": {
        "x": {"datum": 0, "type": "quantitative", "scale": {"domain": [0, 1], "range": [0, 1629]},
              "axis": {"orient": "top", "offset": -51, "domain": true, "domainColor": "#000000", "domainWidth": 3, "ticks": false, "labels": false, "grid": false, "title": null}},
        "y": {"field": "line", "type": "nominal", "scale": {"type": "band", "domain": ["1", "2", "3"], "range": [60, 150], "paddingInner": 0, "paddingOuter": 0}, "axis": null},
        "text": {"field": "text"}
      }
    }
  ]
}
